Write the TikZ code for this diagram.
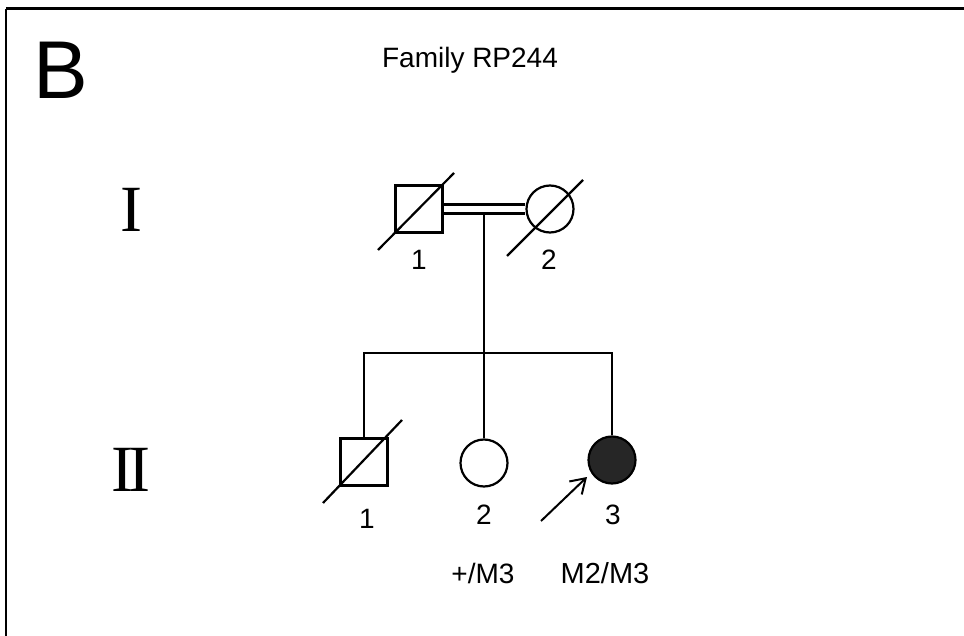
\documentclass[tikz,border=0pt]{standalone}
\usepackage{fontspec}
\setmainfont{Liberation Sans}
\newfontfamily\romanfont{Liberation Serif}
\usetikzlibrary{arrows.meta}
\begin{document}
\begin{tikzpicture}[x=1pt,y=-1pt,
  ln/.style={line width=2.2pt},
  sq/.style={draw,line width=2.2pt,minimum size=47pt,inner sep=0pt,rectangle},
  ci/.style={draw,line width=2.2pt,minimum size=47pt,inner sep=0pt,circle},
  lbl/.style={font=\fontsize{28}{28}\selectfont,inner sep=0pt},
  gen/.style={font=\romanfont\fontsize{66}{66}\selectfont,inner sep=0pt}]
\useasboundingbox (0,0) rectangle (964,636);
\coordinate (tl) at (6,9);
\coordinate (tr) at (964,9);
\coordinate (bl) at (6,636);
\draw[line width=3pt] (tl) -- (tr);
\draw[line width=1.6pt] (tl) -- (bl);
\node[font=\fontsize{82}{82}\selectfont,inner sep=0pt] (B) at (61,70) {B};
\node[lbl] (title) at (470,60) {Family RP244};
\node[gen] (gI) at (131,210) {I};
\node[gen] (gII) at (131,470) {I\kern-5.5pt I};
% generation I
\node[sq] (i1) at (419,209) {};
\node[ci] (i2) at (550,209) {};
\draw[ln] ([yshift=4.5pt]i1.east) -- ([yshift=4.5pt]i1.east -| i2.west);
\draw[ln] ([yshift=-4.5pt]i1.east) -- ([yshift=-4.5pt]i1.east -| i2.west);
\draw[ln] ([shift={(-41,41)}]i1.center) -- ([shift={(35,-36)}]i1.center);
\draw[ln] ([shift={(-43,47)}]i2.center) -- ([shift={(33,-29)}]i2.center);
\node[lbl] (l1) at (419,260) {1};
\node[lbl] (l2) at (549,260) {2};
\coordinate (m) at (484,213.5);
\coordinate (s) at (484,353);
\draw[ln] (m) -- (s);
% generation II
\node[sq] (ii1) at (364,462) {};
\node[ci] (ii2) at (484,463) {};
\node[ci,fill=black!85] (ii3) at (612,460) {};
\draw[ln] (ii1.north) |- (s) -| (ii3.north);
\draw[ln] (s) -- (ii2.north);
\draw[ln] ([shift={(-41,41)}]ii1.center) -- ([shift={(38,-42)}]ii1.center);
\node[lbl] (m1) at (367,519) {1};
\node[lbl] (m2) at (484,515) {2};
\node[lbl] (m3) at (613,515) {3};
\coordinate (at) at (541,521);
\coordinate (ah) at (587,477);
\draw[line width=2pt,-{Straight Barb[length=14pt,width=18pt,line width=2pt]}] (at) -- (ah);
\node[lbl] (g2) at (483,573) {+/M3};
\node[lbl,font=\fontsize{29}{29}\selectfont] (g3) at (605,573) {M2/M3};
\end{tikzpicture}
\end{document}
